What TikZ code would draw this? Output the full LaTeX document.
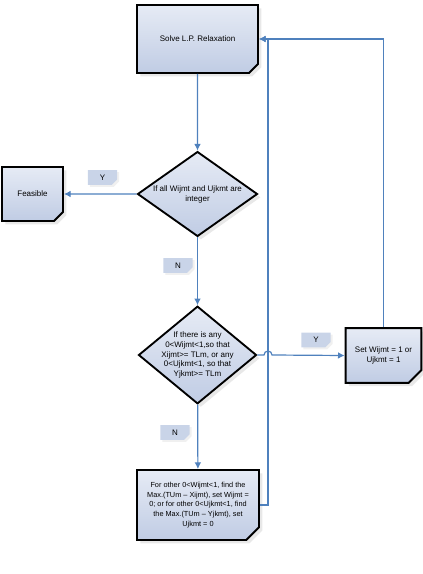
\documentclass[tikz,border=0pt]{standalone}
\usepackage{fontspec}
\setmainfont{Liberation Sans}
\usepackage{tikz}
\usetikzlibrary{arrows.meta, shapes.geometric, shapes.misc, shadows}
\definecolor{flowblue}{RGB}{79, 129, 189}
\definecolor{boxlight}{RGB}{230, 235, 245}
\definecolor{boxdark}{RGB}{192, 204, 228}

\begin{document}
\begin{tikzpicture}[
  x=0.75pt, y=-0.75pt,
  every node/.style={font=\fontsize{6}{7.4}\selectfont},
  box/.style={chamfered rectangle, chamfered rectangle corners=south east, chamfered rectangle xsep=6pt,
    draw=black, line width=1.4pt, top color=boxlight, bottom color=boxdark, align=center, inner sep=1pt,
    drop shadow={opacity=0.18, shadow xshift=2.5pt, shadow yshift=-2.5pt}},
  decision/.style={diamond, draw=black, line width=1.4pt, top color=boxlight, bottom color=boxdark,
    align=center, inner sep=-4pt, drop shadow={opacity=0.18, shadow xshift=2.5pt, shadow yshift=-2.5pt}},
  tag/.style={chamfered rectangle, chamfered rectangle corners=south east, chamfered rectangle xsep=3pt,
    fill=boxdark!85, minimum width=22pt, minimum height=11pt, inner sep=0pt,
    drop shadow={opacity=0.12, shadow xshift=1.5pt, shadow yshift=-1.5pt}},
  arrow/.style={-{Latex[length=5pt, width=5pt]}, draw=flowblue, line width=0.9pt}
]
  \useasboundingbox (0,0) rectangle (423,574);

  \node[box, minimum width=90.75pt, minimum height=51pt] (solve) at (197.5, 39) {Solve L.P. Relaxation};
  \node[decision, minimum width=90pt, minimum height=61.5pt] (integer) at (197.5, 194) {If all Wijmt and Ujkmt are\\integer};
  \node[box, minimum width=45.75pt, minimum height=40.5pt] (feasible) at (32.5, 194) {Feasible};
  \node[decision, minimum width=88.5pt, minimum height=64pt] (anyfrac) at (197.5, 355) {If there is any\\0<Wijmt<1,so that\\Xijmt>= TLm, or any\\0<Ujkmt<1, so that\\Yjkmt>= TLm};
  \node[box, minimum width=56pt, minimum height=41pt] (setone) at (383.5, 355.5) {Set Wijmt = 1 or\\Ujkmt = 1};
  \node[box, minimum width=91.5pt, minimum height=52.5pt, font=\fontsize{5.5}{7.4}\selectfont] (setzero) at (198, 505) {For other 0<Wijmt<1, find the\\Max.(TUm – Xijmt), set Wijmt =\\0; or for other 0<Ujkmt<1, find\\the Max.(TUm – Yjkmt), set\\Ujkmt = 0};

  % Y / N tags
  \node[tag] (yes1) at (102.5, 177.5) {Y};
  \node[tag] (no1) at (178, 265.5) {N};
  \node[tag] (yes2) at (316, 340) {Y};
  \node[tag] (no2) at (175, 432.5) {N};

  \coordinate (loop) at (268, 0);

  \draw[arrow] (solve) -- (integer);
  \draw[arrow] (integer) -- (feasible);
  \draw[arrow] (integer) -- (anyfrac);
  \draw[arrow] (anyfrac) -- (setzero);
  \draw[arrow] (anyfrac.east) -- ([xshift=-3pt] anyfrac.east -| loop) arc[start angle=180, end angle=360, radius=4] -- (setone.west);
  \draw[arrow] (setone.north) |- (solve.east);
  \draw[arrow] (setzero.east) -- (setzero.east -| loop) |- (solve.east);

\end{tikzpicture}
\end{document}
